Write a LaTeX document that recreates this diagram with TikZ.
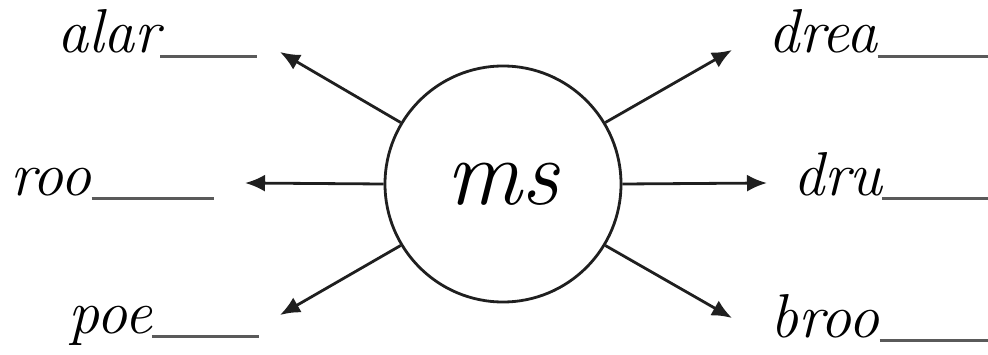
\documentclass[tikz,border=0pt]{standalone}
\usepackage{tikz}
\usetikzlibrary{arrows.meta, positioning}
\usepackage[dvipsnames, svgnames, x11names]{xcolor}
\definecolor{blankgray}{HTML}{5A5A5A}
\newcommand{\blankline}[1]{{\color{blankgray}\rule[-5pt]{#1}{2.6pt}}}

\begin{document}
\begin{tikzpicture}[x=1pt, y=1pt,
	wordlab/.style={anchor=base west, inner sep=0pt, font=\fontsize{62}{64}\selectfont\itshape},
	outarrow/.style={-{Latex[length=20pt, width=17pt]}, line width=2.8pt, draw=black!88}]
	\useasboundingbox (0,0) rectangle (988,354);
	
	% 中间的圆
	\node[circle, draw=black!88, line width=2.8pt, minimum size=236pt, inner sep=0pt,
	font=\fontsize{94}{96}\selectfont\itshape] (mid) at (503,170) {ms};
	
	% 箭头终点
	\coordinate (ulend) at (280,302);
	\coordinate (lend) at (245,171);
	\coordinate (llend) at (280,39);
	\coordinate (urend) at (732,304);
	\coordinate (rend) at (767,171);
	\coordinate (lrend) at (732,36);
	
	\draw[outarrow] (mid.149) -- (ulend);
	\draw[outarrow] (mid.west) -- (lend);
	\draw[outarrow] (mid.211) -- (llend);
	\draw[outarrow] (mid.31) -- (urend);
	\draw[outarrow] (mid.east) -- (rend);
	\draw[outarrow] (mid.-31) -- (lrend);
	
	% 左边的词
	\node[wordlab] (alar) at (57,301) {alar\blankline{97pt}};
	\node[wordlab] (roo) at (10,159) {roo\blankline{122pt}};
	\node[wordlab] (poe) at (68,21) {poe\blankline{107pt}};
	
	% 右边的词
	\node[wordlab] (drea) at (768,301) {drea\blankline{110pt}};
	\node[wordlab] (dru) at (793,159) {dru\blankline{110pt}};
	\node[wordlab] (broo) at (770,17) {broo\blankline{110pt}};
\end{tikzpicture}
\end{document}
